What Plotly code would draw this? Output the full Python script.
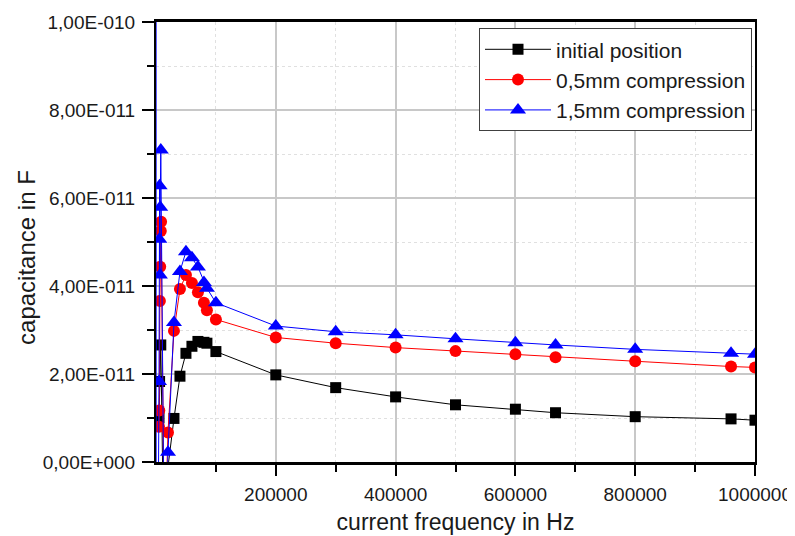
import plotly.graph_objects as go

# ---- data (frequency in Hz, capacitance in F) ----
black_f = [5000, 6000, 8000, 12000, 30000, 40000, 50000, 60000, 70000, 80000, 85000, 100000,
           200000, 300000, 400000, 500000, 600000, 667000, 800000, 960000, 1000000]
black_c = [1.00e-11, 1.83e-11, 2.66e-11, -1.0e-11, 0.99e-11, 1.95e-11, 2.47e-11, 2.63e-11, 2.74e-11, 2.72e-11, 2.70e-11, 2.51e-11,
           1.98e-11, 1.69e-11, 1.48e-11, 1.30e-11, 1.20e-11, 1.12e-11, 1.03e-11, 0.98e-11, 0.95e-11]

red_f = [5000, 5500, 6500, 7000, 8000, 8500, 14000, 20000, 30000, 40000, 50000, 60000, 70000, 80000, 85000, 100000,
         200000, 300000, 400000, 500000, 600000, 667000, 800000, 960000, 1000000]
red_c = [0.80e-11, 1.17e-11, 3.66e-11, 4.44e-11, 5.25e-11, 5.46e-11, -2.0e-11, 0.67e-11, 2.98e-11, 3.93e-11, 4.25e-11, 4.07e-11, 3.86e-11, 3.62e-11, 3.45e-11, 3.24e-11,
         2.83e-11, 2.70e-11, 2.60e-11, 2.52e-11, 2.45e-11, 2.38e-11, 2.29e-11, 2.17e-11, 2.15e-11]

blue_f = [100, 300, 5000, 5500, 6000, 6500, 7000, 8000, 14000, 20000, 30000, 40000, 50000, 60000, 70000, 80000, 85000, 100000,
          200000, 300000, 400000, 500000, 600000, 667000, 800000, 960000, 1000000]
blue_c = [3.0e-10, -1.0e-10, 1.83e-11, 5.06e-11, 6.28e-11, 4.25e-11, 5.79e-11, 7.09e-11, -2.5e-11, 0.22e-11, 3.17e-11, 4.33e-11, 4.78e-11, 4.64e-11, 4.43e-11, 4.08e-11, 3.95e-11, 3.62e-11,
          3.09e-11, 2.96e-11, 2.89e-11, 2.80e-11, 2.71e-11, 2.66e-11, 2.56e-11, 2.47e-11, 2.45e-11]

series_names = ["initial position", "0,5mm compression", "1,5mm compression"]

x_tickvals = [200000, 400000, 600000, 800000, 1000000]
x_ticktext = ["200000", "400000", "600000", "800000", "1000000"]
y_tickvals = [0, 2e-11, 4e-11, 6e-11, 8e-11, 1e-10]
y_ticktext = ["0,00E+000", "2,00E-011", "4,00E-011", "6,00E-011", "8,00E-011", "1,00E-010"]

FONT = "Liberation Sans, Arial, sans-serif"
TXT = "#1a1a1a"

fig = go.Figure()
specs = [
    (black_f, black_c, series_names[0], "#000000", "square", 11),
    (red_f, red_c, series_names[1], "#ff0000", "circle", 12),
    (blue_f, blue_c, series_names[2], "#0000ff", "triangle-up", 14),
]
for xf, yc, nm, col, sym, sz in specs:
    fig.add_trace(go.Scatter(
        x=xf, y=yc, name=nm, mode="lines+markers",
        line=dict(color=col, width=1),
        marker=dict(color=col, symbol=sym, size=sz, line=dict(width=0)),
    ))

fig.update_layout(
    width=795, height=536,
    margin=dict(l=148, r=48, t=14, b=82),
    paper_bgcolor="white", plot_bgcolor="white",
    font=dict(family=FONT, color=TXT),
    showlegend=True,
    legend=dict(
        x=0.995, y=0.986, xanchor="right", yanchor="top",
        bgcolor="white", bordercolor="#404040", borderwidth=1,
        font=dict(family=FONT, size=21, color=TXT),
        tracegroupgap=0, itemwidth=66,
    ),
    annotations=[dict(
        text="capacitance in F", textangle=-90, showarrow=False,
        xref="paper", yref="paper", x=-0.2154, y=0.466,
        xanchor="center", yanchor="middle",
        font=dict(family=FONT, size=24, color=TXT),
    )],
)

fig.update_xaxes(
    range=[0, 1000000], automargin=False,
    tickvals=x_tickvals, ticktext=x_ticktext,
    tickfont=dict(family=FONT, size=19, color=TXT),
    ticks="outside", ticklen=11, tickwidth=1.5, tickcolor="black",
    ticklabelstandoff=2,
    showline=True, linecolor="black", linewidth=2.5, mirror=True,
    showgrid=True, gridcolor="#c8c8c8", gridwidth=1.5,
    zeroline=False,
    minor=dict(tickvals=[100000, 300000, 500000, 700000, 900000], ticks="outside", ticklen=7,
               tickcolor="black", tickwidth=1.5, showgrid=True, gridcolor="#e0e0e0",
               griddash="dot", gridwidth=1),
    title=dict(text="current frequency in Hz", font=dict(family=FONT, size=23, color=TXT), standoff=11),
)
fig.update_yaxes(
    range=[0, 1e-10], automargin=False,
    tickvals=y_tickvals, ticktext=y_ticktext,
    tickfont=dict(family=FONT, size=19, color=TXT),
    ticks="outside", ticklen=12, tickwidth=1.5, tickcolor="black",
    ticklabelstandoff=3,
    showline=True, linecolor="black", linewidth=2, mirror=True,
    showgrid=True, gridcolor="#c8c8c8", gridwidth=1.5,
    zeroline=False,
    minor=dict(tickvals=[1e-11, 3e-11, 5e-11, 7e-11, 9e-11], ticks="outside", ticklen=7,
               tickcolor="black", tickwidth=1.5, showgrid=True, gridcolor="#e0e0e0",
               griddash="dot", gridwidth=1),
)

fig.write_html("out.html")
